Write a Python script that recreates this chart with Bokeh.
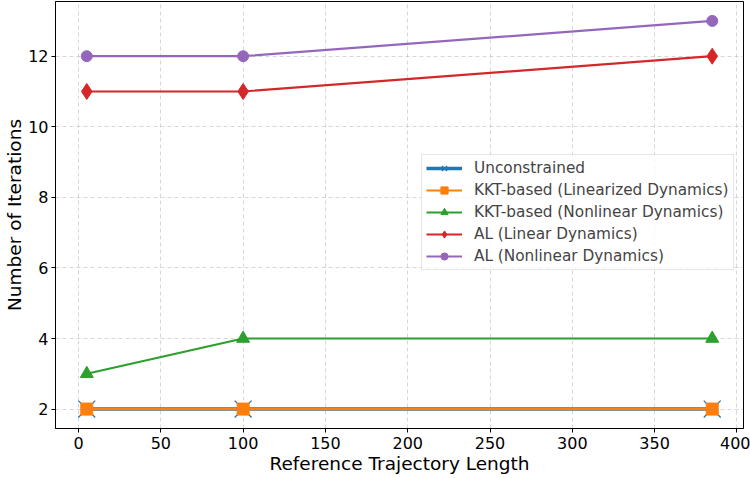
from bokeh.plotting import figure
from bokeh.embed import file_html
from bokeh.resources import INLINE
from bokeh.models import Range1d, FixedTicker, Legend

x_vals = [5, 100, 385]
unconstrained = [2, 2, 2]
kkt_lin = [2, 2, 2]
kkt_nonlin = [3, 4, 4]
al_lin = [11, 11, 12]
al_nonlin = [12, 12, 13]

series = [
    ("Unconstrained", unconstrained, "#1f77b4", "x", 24, 3.5),
    ("KKT-based (Linearized Dynamics)", kkt_lin, "#ff7f0e", "square", 12, 2.2),
    ("KKT-based (Nonlinear Dynamics)", kkt_nonlin, "#2ca02c", "triangle", 13, 2.2),
    ("AL (Linear Dynamics)", al_lin, "#d62728", "diamond", 16, 2.2),
    ("AL (Nonlinear Dynamics)", al_nonlin, "#9467bd", "circle", 11, 2.2),
]

FONT = "DejaVu Sans"

p = figure(width=750, height=478, output_backend="svg", toolbar_location=None,
           x_range=Range1d(-14, 404), y_range=Range1d(1.45, 13.55),
           min_border_left=55, min_border_right=7, min_border_top=1, min_border_bottom=50)

items = []
for name, ys, color, marker, size, lw in series:
    r1 = p.line(x_vals, ys, line_color=color, line_width=lw)
    if marker == "x":
        r2 = p.scatter(x_vals, ys, marker=marker, size=size, line_color=color, line_width=1.3)
    else:
        r2 = p.scatter(x_vals, ys, marker=marker, size=size, fill_color=color, line_color=color, line_width=1)
    items.append((name, [r1, r2]))

legend = Legend(items=items, location=(366, 158))
legend.label_text_font = FONT
legend.label_text_font_size = "15.3px"
legend.glyph_width = 36
legend.glyph_height = 18
legend.spacing = 4
legend.padding = 4
legend.margin = 0
legend.label_standoff = 12
legend.border_line_color = "#cccccc"
legend.background_fill_alpha = 0.8
p.add_layout(legend, "center")

p.xaxis.ticker = FixedTicker(ticks=[0, 50, 100, 150, 200, 250, 300, 350, 400])
p.yaxis.ticker = FixedTicker(ticks=[2, 4, 6, 8, 10, 12])
for ax in [p.xaxis, p.yaxis]:
    ax.major_label_text_font = FONT
    ax.major_label_text_font_size = "16px"
    ax.major_label_text_color = "black"
    ax.axis_label_text_font = FONT
    ax.axis_label_text_font_size = "18.5px"
    ax.axis_label_text_font_style = "normal"
    ax.axis_label_text_color = "black"
    ax.minor_tick_line_color = None
    ax.major_tick_in = 0
    ax.major_tick_out = 4
    ax.major_tick_line_color = "black"
    ax.axis_line_color = "black"
    ax.major_label_standoff = 4
p.yaxis.major_label_standoff = 3
p.xaxis.axis_label = "Reference Trajectory Length"
p.yaxis.axis_label = "Number of Iterations"
p.xaxis.axis_label_standoff = 1
p.yaxis.axis_label_standoff = 0

p.grid.grid_line_color = "#b0b0b0"
p.grid.grid_line_alpha = 0.5
p.grid.grid_line_dash = "4 3"
p.outline_line_color = "black"
p.outline_line_width = 1
p.outline_line_alpha = 1

open("out.html", "w").write(file_html(p, INLINE))
